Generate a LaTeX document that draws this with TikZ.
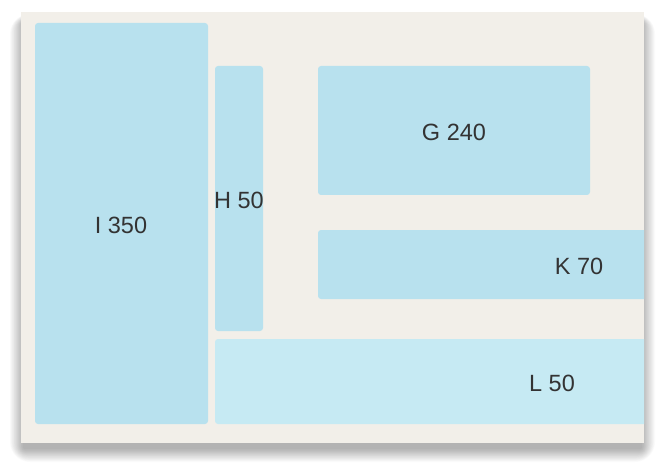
\documentclass[tikz,border=0pt]{standalone}
\usepackage{fontspec}
\setmainfont{Liberation Sans}
\definecolor{cardbg}{HTML}{F2EFE9}
\definecolor{boxblue}{HTML}{B8E1EE}
\definecolor{boxlight}{HTML}{C6EAF3}
\definecolor{txt}{HTML}{333333}
\tikzset{
  tile/.style={fill=boxblue, draw=none, rounded corners=3pt},
  tilelight/.style={fill=boxlight, draw=none, rounded corners=3pt},
  lbl/.style={text=txt, font=\fontsize{23.5}{28}\selectfont, inner sep=0pt, anchor=center}
}
\begin{document}
\begin{tikzpicture}[x=1pt,y=-1pt]
\useasboundingbox (0,0) rectangle (660,470);
\fill[white] (0,0) rectangle (660,470);
% soft shadow
\foreach \i in {1,...,20}{
  \fill[black, opacity=0.014, rounded corners=\i pt] (24-\i*0.7,22-\i*0.4) rectangle (641+\i*0.7,448+\i*0.7);
}
% card
\fill[cardbg] (21,12) rectangle (644,443);
\begin{scope}
\clip (21,12) rectangle (644,443);
\fill[tile] (35,23) rectangle (208,424);
\fill[tile] (215,66) rectangle (263,331);
\fill[tile] (318,66) rectangle (590,195);
\fill[tile] (318,230) rectangle (660,299);
\fill[tilelight] (215,339) rectangle (660,424);
\end{scope}
\node[lbl] (i) at (121,225) {I 350};
\node[lbl] (h) at (239,200) {H 50};
\node[lbl] (g) at (454,132) {G 240};
\node[lbl] (k) at (579,266) {K 70};
\node[lbl] (l) at (552,383) {L 50};
\end{tikzpicture}
\end{document}
